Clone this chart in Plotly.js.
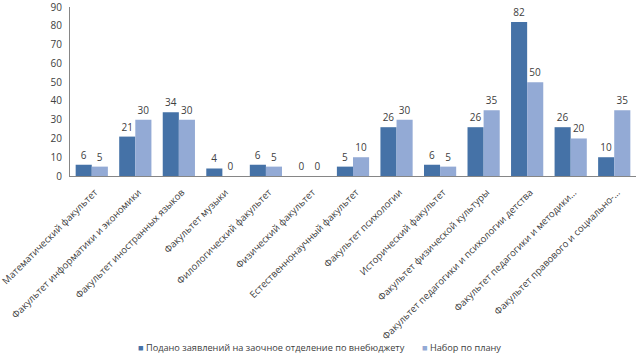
<!DOCTYPE html>
<html><head><meta charset="utf-8">
<script src="https://cdn.plot.ly/plotly-3.0.1.min.js"></script>
<style>html,body{margin:0;padding:0;background:#fff}#c{width:640px;height:357px}</style>
</head><body><div id="c"></div>
<script>
const categories = [
  "Математический факультет",
  "Факультет информатики и экономики",
  "Факультет иностранных языков",
  "Факультет музыки",
  "Филологический факультет",
  "Физический факультет",
  "Естественнонаучный факультет",
  "Факультет психологии",
  "Исторический факультет",
  "Факультет физической культуры",
  "Факультет педагогики и психологии детства",
  "Факультет педагогики и методики...",
  "Факультет правового и социально-..."
];
const seriesNames = ["Подано заявлений на заочное отделение по внебюджету", "Набор по плану"];
const applied = [6, 21, 34, 4, 6, 0, 5, 26, 6, 26, 82, 26, 10];
const plan = [5, 30, 30, 0, 5, 0, 10, 30, 5, 35, 50, 20, 35];
const yTicks = [0,10,20,30,40,50,60,70,80,90];
const colors = ["#4572A7", "#93AAD5"];

const fam = "Open Sans, Noto Sans, sans-serif";
function trace(name, vals, color) {
  return {
    type: "bar", name: name, x: categories, y: vals,
    marker: {color: color}, showlegend: false,
    text: vals.map(String), textposition: "outside", cliponaxis: false,
    textfont: {size: 10, color: "#404040", family: fam}
  };
}
const data = [trace(seriesNames[0], applied, colors[0]), trace(seriesNames[1], plan, colors[1])];
const legendAnn = [
  {text: '<span style="color:' + colors[0] + '">■</span> ' + seriesNames[0], x: 136},
  {text: '<span style="color:' + colors[1] + '">■</span> ' + seriesNames[1], x: 420}
].map(a => ({
  text: a.text, xref: "paper", yref: "paper",
  x: (a.x - 70) / 566, y: -(347 - 176) / 169, xanchor: "left", yanchor: "middle",
  showarrow: false, font: {size: 9.2, color: "#404040", family: fam}
}));
const layout = {
  width: 640, height: 357,
  margin: {l: 70, r: 4, t: 7, b: 181},
  paper_bgcolor: "#fff", plot_bgcolor: "#fff",
  barmode: "group", bargap: 0.26, bargroupgap: 0,
  font: {family: fam, color: "#404040", size: 9},
  xaxis: {
    tickangle: -45, tickfont: {size: 9.6, color: "#404040"},
    showline: true, linecolor: "#868686", linewidth: 1,
    ticks: "", showgrid: false, automargin: false,
    ticklabelstandoff: 6, ticklabelshift: 3
  },
  yaxis: {
    range: [0, 90.05], tickvals: yTicks, ticktext: yTicks.map(String),
    tickfont: {size: 10, color: "#404040"}, ticklabeloverflow: "allow",
    showline: true, linecolor: "#868686", linewidth: 1,
    showgrid: false, zeroline: false, ticks: "", automargin: false, ticklabelstandoff: 5
  },
  showlegend: false,
  annotations: legendAnn
};
Plotly.newPlot("c", data, layout, {displayModeBar: false, staticPlot: true});
</script></body></html>
